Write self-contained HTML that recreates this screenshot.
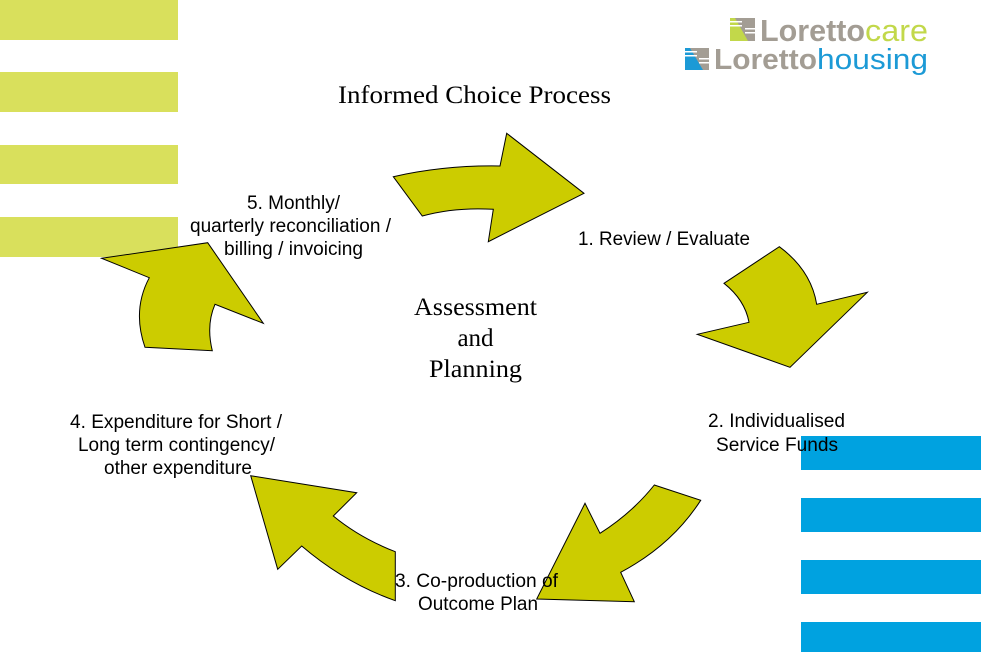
<!DOCTYPE html>
<html><head><meta charset="utf-8"><style>
html,body{margin:0;padding:0;background:#fff}
svg{display:block}
.a{font-family:"Liberation Sans",Arial,sans-serif;font-size:19px;fill:#000}
.s{font-family:"Liberation Serif","Times New Roman",serif;font-size:25px;fill:#000}
.ar{fill:#cccc00;stroke:#000;stroke-width:1;stroke-linejoin:miter}
.l{font-family:"Liberation Sans",Arial,sans-serif}
</style></head><body>
<svg width="981" height="652" viewBox="0 0 981 652" xmlns="http://www.w3.org/2000/svg">
<rect width="981" height="652" fill="#fff"/>
<g fill="#d9e05c">
<rect x="0" y="0" width="178" height="40"/>
<rect x="0" y="72" width="178" height="40"/>
<rect x="0" y="145" width="178" height="39"/>
<rect x="0" y="217" width="178" height="40"/>
</g>
<g fill="#00a2e0">
<rect x="801" y="436" width="180" height="34"/>
<rect x="801" y="498" width="180" height="34"/>
<rect x="801" y="560" width="180" height="34"/>
<rect x="801" y="622" width="180" height="30"/>
</g>
<path class="ar" d="M393.3 176.7Q445 165 500 166L506.7 133.3L584 193.3L488.3 241.7L493.3 209.3Q455 207 422.3 216Z"/>
<path class="ar" d="M779.3 246.7Q811 270 816.7 304.3L867.3 292.3L790 367.3L697.3 334.3L749 322.3Q745 300 724 283.3Z"/>
<path class="ar" d="M654.3 485L700.7 500.3Q672 545 620.7 572.3L634.3 601.7L536.7 599L585 503.3L600 533.3Q632 513 654.3 485Z"/>
<path class="ar" d="M250.7 475.7L356.7 492.7L333.3 516Q360 538 395.3 551.7V600.7Q345 583 301.7 546L277.7 569.3Z"/>
<path class="ar" d="M101.7 258.3L207.7 242.7L263.3 323.3L215 304.3Q206 325 212.3 350.7L145 347.3Q132 310 149.3 277.7Z"/>

<g text-anchor="middle">
<text class="s" x="474.5" y="103" textLength="273" lengthAdjust="spacingAndGlyphs">Informed Choice Process</text>
<text class="s" x="475.5" y="315" textLength="123" lengthAdjust="spacingAndGlyphs">Assessment</text>
<text class="s" x="475.5" y="346">and</text>
<text class="s" x="475.5" y="377" textLength="93" lengthAdjust="spacingAndGlyphs">Planning</text>
<text class="a" x="664" y="245" textLength="172" lengthAdjust="spacingAndGlyphs">1. Review / Evaluate</text>
<text class="a" x="776.5" y="427" textLength="137" lengthAdjust="spacingAndGlyphs">2. Individualised</text>
<text class="a" x="777" y="451" textLength="122" lengthAdjust="spacingAndGlyphs">Service Funds</text>
<text class="a" x="476.5" y="587" textLength="163" lengthAdjust="spacingAndGlyphs">3. Co-production of</text>
<text class="a" x="478" y="610" textLength="120" lengthAdjust="spacingAndGlyphs">Outcome Plan</text>
<text class="a" x="176" y="428" textLength="212" lengthAdjust="spacingAndGlyphs">4. Expenditure for Short /</text>
<text class="a" x="176.5" y="451" textLength="197" lengthAdjust="spacingAndGlyphs">Long term contingency/</text>
<text class="a" x="178" y="474" textLength="148" lengthAdjust="spacingAndGlyphs">other expenditure</text>
<text class="a" x="293.5" y="209" textLength="93" lengthAdjust="spacingAndGlyphs">5. Monthly/</text>
<text class="a" x="290.5" y="232" textLength="201" lengthAdjust="spacingAndGlyphs">quarterly reconciliation /</text>
<text class="a" x="293.5" y="255" textLength="139" lengthAdjust="spacingAndGlyphs">billing / invoicing</text>
</g>

<!-- logo -->
<rect x="730" y="18" width="25" height="23" fill="#c2d84a"/>
<path d="M735 18H755V41H748Z" fill="#a39d94"/>
<g fill="#fff"><rect x="730" y="21" width="12" height="1.5"/><rect x="730" y="25" width="12" height="1.5"/><rect x="745" y="28" width="10" height="1.5"/><rect x="745" y="32" width="10" height="1.5"/></g>
<rect x="685" y="48" width="24" height="22" fill="#1c9ad6"/>
<path d="M690 48H709V70H703Z" fill="#a39d94"/>
<g fill="#fff"><rect x="685" y="51" width="12" height="1.5"/><rect x="685" y="55" width="12" height="1.5"/><rect x="699" y="58" width="10" height="1.5"/><rect x="699" y="62" width="10" height="1.5"/></g>
<text class="l" x="760" y="41" font-size="31" fill="#a39d94" font-weight="bold" textLength="105" lengthAdjust="spacingAndGlyphs">Loretto</text>
<text class="l" x="865" y="41" font-size="31" fill="#c2d84a" textLength="63" lengthAdjust="spacingAndGlyphs">care</text>
<text class="l" x="714" y="69" font-size="29" fill="#a39d94" font-weight="bold" textLength="103" lengthAdjust="spacingAndGlyphs">Loretto</text>
<text class="l" x="817" y="69" font-size="29" fill="#1c9ad6" textLength="111" lengthAdjust="spacingAndGlyphs">housing</text>
</svg>
</body></html>
